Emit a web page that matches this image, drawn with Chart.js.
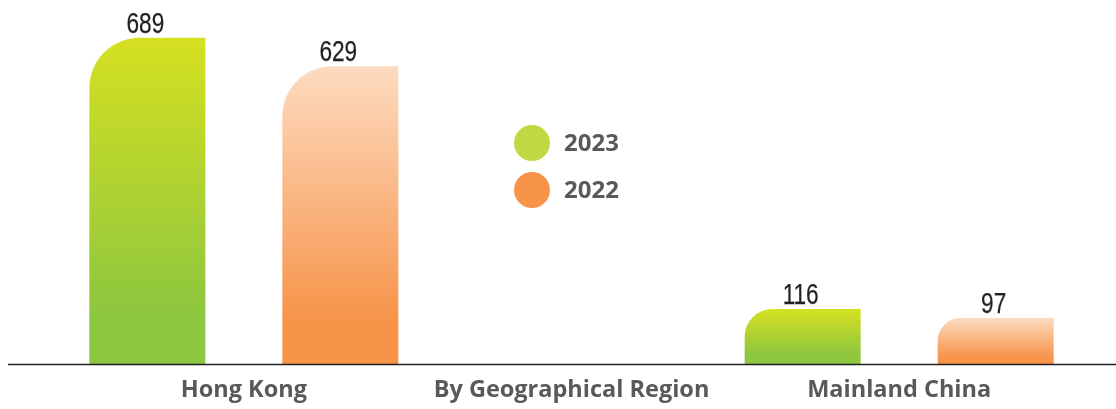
<!DOCTYPE html>
<html>
<head>
<meta charset="utf-8">
<script src="https://cdn.jsdelivr.net/npm/chart.js@4.4.0/dist/chart.umd.min.js"></script>
<style>
  html, body { margin: 0; padding: 0; background: #fff; }
  #wrap { width: 1116px; height: 409px; position: relative; }
</style>
</head>
<body>
<div id="wrap"><canvas id="myChart"></canvas></div>
<script>
const categories = ['Hong Kong', 'By Geographical Region', 'Mainland China'];
const seriesNames = ['2023', '2022'];
const values2023 = [689, null, 116];
const values2022 = [629, null, 97];

const gradientStops = {
    '2023': ['#d6e021', '#8dc63f'],
    '2022': ['#fddbc0', '#f7944a']
};
const legendColors = { '2023': '#c2d843', '2022': '#f7944a' };

function barGradient(ctx, name) {
    const chart = ctx.chart;
    const area = chart.chartArea;
    if (!area || ctx.raw == null) return gradientStops[name][1];
    const yScale = chart.scales.y;
    const top = yScale.getPixelForValue(ctx.raw);
    const bottom = yScale.getPixelForValue(0);
    const g = chart.ctx.createLinearGradient(0, top, 0, bottom);
    g.addColorStop(0, gradientStops[name][0]);
    g.addColorStop(0.85, gradientStops[name][1]);
    g.addColorStop(1, gradientStops[name][1]);
    return g;
}

// value labels above bars, the baseline, the legend in the middle
const extras = {
    id: 'extras',
    afterDatasetsDraw(chart) {
        const c = chart.ctx;
        c.save();
        c.fillStyle = '#231f20';
        c.strokeStyle = '#231f20';
        c.lineWidth = 0.25;
        c.font = '29px "Liberation Sans", sans-serif';
        c.textAlign = 'center';
        c.textBaseline = 'alphabetic';
        chart.data.datasets.forEach((ds, i) => {
            chart.getDatasetMeta(i).data.forEach((bar, j) => {
                if (ds.data[j] == null) return;
                // squeeze horizontally to look like a condensed face
                c.save();
                c.translate(bar.x - 2, bar.y - 5);
                c.scale(0.78, 1);
                c.fillText(ds.data[j], 0, 0);
                c.strokeText(ds.data[j], 0, 0);
                c.restore();
            });
        });

        const yBase = chart.scales.y.getPixelForValue(0);
        c.strokeStyle = '#231f20';
        c.lineWidth = 1.5;
        c.beginPath();
        c.moveTo(8, yBase + 0.5);
        c.lineTo(1116, yBase + 0.5);
        c.stroke();

        const legendY = [143, 190];
        c.font = 'bold 24px "Open Sans", sans-serif';
        c.textAlign = 'left';
        c.textBaseline = 'middle';
        seriesNames.forEach((name, i) => {
            c.fillStyle = legendColors[name];
            c.beginPath();
            c.arc(532, legendY[i], 18, 0, Math.PI * 2);
            c.fill();
            c.fillStyle = '#58595b';
            c.fillText(name, 564, legendY[i] + 1);
        });
        c.restore();
    }
};

const ctx = document.getElementById('myChart').getContext('2d');
const myChart = new Chart(ctx, {
    type: 'bar',
    data: {
        labels: categories,
        datasets: [{
            label: seriesNames[0],
            data: values2023,
            backgroundColor: c => barGradient(c, '2023'),
            borderRadius: { topLeft: 50, topRight: 0, bottomLeft: 0, bottomRight: 0 },
            borderSkipped: false
        }, {
            label: seriesNames[1],
            data: values2022,
            backgroundColor: c => barGradient(c, '2022'),
            borderRadius: { topLeft: 50, topRight: 0, bottomLeft: 0, bottomRight: 0 },
            borderSkipped: false
        }]
    },
    options: {
        responsive: true,
        maintainAspectRatio: false,
        animation: false,
        categoryPercentage: 1.178,
        barPercentage: 0.601,
        layout: { padding: { left: 80, right: 53, top: 0, bottom: 0 } },
        plugins: {
            legend: { display: false },
            tooltip: { enabled: false }
        },
        scales: {
            x: {
                grid: { display: false, drawTicks: false },
                border: { display: false },
                afterFit: scale => { scale.height = 45; },
                ticks: {
                    color: '#58595b',
                    padding: 12,
                    font: { family: 'Open Sans', size: 23.5, weight: 'bold' }
                }
            },
            y: {
                display: false,
                min: 0,
                max: 769
            }
        }
    },
    plugins: [extras]
});
</script>
</body>
</html>
